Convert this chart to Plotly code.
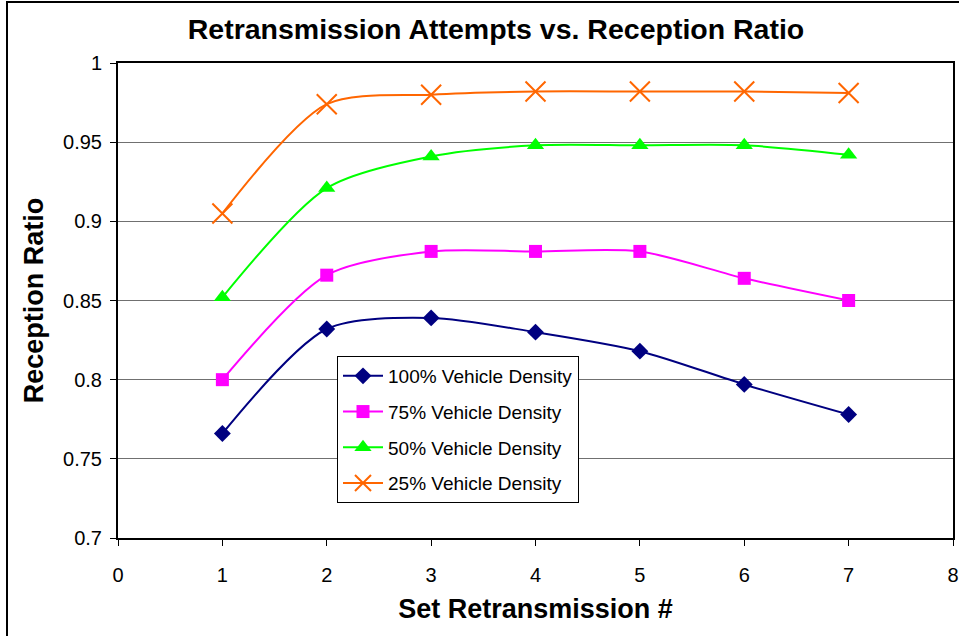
import plotly.graph_objects as go

x_vals = [1, 2, 3, 4, 5, 6, 7]
series_names = ["100% Vehicle Density", "75% Vehicle Density", "50% Vehicle Density", "25% Vehicle Density"]
density_100 = [0.766, 0.832, 0.839, 0.830, 0.818, 0.797, 0.778]
density_75 = [0.800, 0.866, 0.881, 0.881, 0.881, 0.864, 0.850]
density_50 = [0.852, 0.921, 0.941, 0.948, 0.948, 0.948, 0.942]
density_25 = [0.905, 0.974, 0.980, 0.982, 0.982, 0.982, 0.981]
x_ticks = [0, 1, 2, 3, 4, 5, 6, 7, 8]
y_ticks = [0.7, 0.75, 0.8, 0.85, 0.9, 0.95, 1]
y_tick_labels = ["0.7", "0.75", "0.8", "0.85", "0.9", "0.95", "1"]

colors = ["#000080", "#FF00FF", "#00FF00", "#FF6600"]
symbols = ["diamond", "square", "triangle-up", "x-thin-open"]
sizes = [13, 13, 15, 20]
values = [density_100, density_75, density_50, density_25]

fig = go.Figure()
for i, (name, ys) in enumerate(zip(series_names, values)):
    marker = dict(symbol=symbols[i], size=sizes[i], color=colors[i])
    if symbols[i] == "x-thin-open":
        marker["line"] = dict(color=colors[i], width=2)
    fig.add_trace(go.Scatter(
        x=x_vals, y=ys, name=name, mode="lines+markers",
        line=dict(color=colors[i], width=2, shape="spline", smoothing=0.8),
        marker=marker, legendgroup=f"g{i}",
    ))

font_family = "Liberation Sans, Arial, sans-serif"

fig.update_layout(
    width=959, height=636,
    margin=dict(l=118, r=6, t=63, b=98),
    paper_bgcolor="white", plot_bgcolor="white",
    font=dict(family=font_family, color="black", size=20),
    title=dict(text="<b>Retransmission Attempts vs. Reception Ratio</b>",
               x=496 / 959, xref="container", xanchor="center",
               y=1 - 29 / 636, yref="container", yanchor="middle",
               font=dict(size=28.5, family=font_family)),
    showlegend=True,
    legend=dict(x=(337 - 118) / 835, y=(538 - 356) / 475, xanchor="left", yanchor="top",
                bgcolor="white", bordercolor="black", borderwidth=1,
                font=dict(size=19, family=font_family),
                traceorder="grouped", tracegroupgap=8, itemwidth=40),
    xaxis=dict(range=[0, 8], tickvals=x_ticks, ticks="outside", ticklen=6,
               tickcolor="black", showgrid=False, zeroline=False,
               showline=True, linecolor="black", linewidth=2, mirror=True,
               tickfont=dict(size=20), automargin=False, ticklabelstandoff=12,
               title=dict(text="<b>Set Retransmission #</b>", font=dict(size=27), standoff=14)),
    yaxis=dict(range=[0.7, 1], tickvals=y_ticks, ticktext=y_tick_labels,
               ticks="outside", ticklen=6, tickcolor="black",
               showgrid=True, gridcolor="#707070", gridwidth=1, zeroline=False,
               showline=True, linecolor="black", linewidth=2, mirror=True,
               tickfont=dict(size=20), automargin=False, ticklabelstandoff=4,
               title=dict(text="<b>Reception Ratio</b>", font=dict(size=27), standoff=12)),
)

fig.add_shape(type="rect", xref="paper", yref="paper",
              x0=(7 - 118) / 835, x1=(965 - 118) / 835,
              y0=(538 - 645) / 475, y1=(538 - 2) / 475,
              line=dict(color="black", width=2), fillcolor="rgba(0,0,0,0)", layer="above")

fig.write_html(
    "out.html",
    config={"displayModeBar": False},
    post_script="document.body.style.margin='0';document.body.style.overflow='hidden';",
)
